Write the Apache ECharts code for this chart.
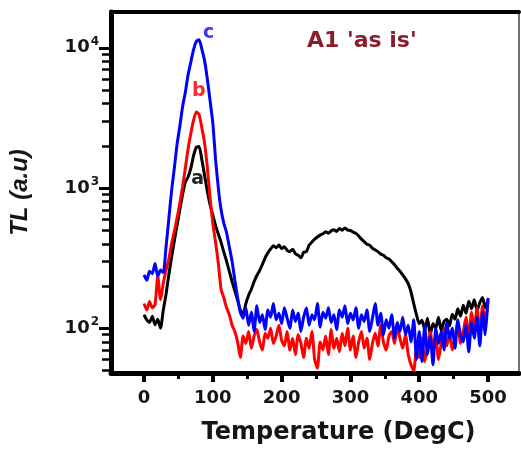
<!DOCTYPE html>
<html><head><meta charset="utf-8">
<script src="https://cdn.jsdelivr.net/npm/echarts@6/dist/echarts.min.js"></script>
<style>html,body{margin:0;padding:0;background:#fff}#c{width:521px;height:450px}</style>
</head><body><div id="c"></div>
<script>
const temps = [0,4,8,12,16,20,24,28,32,36,40,44,48,52,56,60,64,68,72,76,80,84,88,92,96,100,104,108,112,116,120,124,128,132,136,140,144,148,152,156,160,164,168,172,176,180,184,188,192,196,200,204,208,212,216,220,224,228,232,236,240,244,248,252,256,260,264,268,272,276,280,284,288,292,296,300,304,308,312,316,320,324,328,332,336,340,344,348,352,356,360,364,368,372,376,380,384,388,392,396,400,404,408,412,416,420,424,428,432,436,440,444,448,452,456,460,464,468,472,476,480,484,488,492,496,500];
const seriesA = [125,115,110,122,106,116,100,135,175,240,320,420,540,700,900,1100,1200,1380,1700,1950,1980,1600,1230,950,760,640,540,470,410,350,300,255,215,185,158,135,126,150,172,190,215,238,258,285,318,345,368,388,375,392,370,382,360,352,366,340,332,318,348,352,392,412,432,448,462,472,488,476,495,505,490,515,500,520,502,498,485,475,455,432,415,398,392,372,362,352,338,332,318,312,298,285,268,255,240,225,208,182,150,125,108,114,98,118,90,108,100,120,96,112,116,104,126,116,138,122,146,128,156,138,160,134,152,166,140,158];
const seriesB = [150,135,155,140,148,235,160,210,260,310,400,490,610,780,1020,1380,1900,2450,3050,3480,3350,2700,2100,1400,850,560,410,290,190,165,140,125,105,95,80,62,88,78,95,72,88,98,80,70,92,85,100,78,88,105,82,75,95,70,85,65,90,78,62,85,72,95,60,52,80,70,88,65,98,72,85,68,92,75,100,70,88,62,80,95,72,85,60,78,92,75,105,80,70,88,95,78,102,85,72,90,65,55,50,70,62,85,58,72,95,68,88,60,78,100,75,92,70,85,110,78,95,120,85,130,100,140,90,145,110,160];
const seriesC = [240,220,255,245,290,235,260,250,380,600,950,1380,2050,2750,3800,4800,6400,7900,9700,11100,11400,9800,8100,6000,4200,2900,1600,1000,700,560,480,380,300,220,165,130,118,140,105,130,95,145,110,125,98,135,120,150,115,128,108,140,118,100,135,112,128,95,120,140,105,125,115,150,102,130,118,140,110,125,98,135,120,145,108,128,115,140,100,125,112,135,95,118,150,105,128,90,115,100,125,85,110,95,120,90,105,80,115,60,95,58,105,65,88,55,100,78,95,70,110,85,100,72,115,90,80,105,68,110,85,120,75,130,90,165];
const seriesNames = ['a','b','c'];
const seriesColors = ['#000000','#ff0000','#0000ff'];
const labelColors = ['#222222','#ff2a2a','#3a3af0'];
const labelCoords = [[78,1166],[79.6,4910],[94,12740]];
const xMajorTicks = [0,100,200,300,400,500];
const xMinorTicks = [50,150,250,350,450];
const yMajorTicks = [100,1000,10000];
const yTickExponents = {100:'2',1000:'3',10000:'4'};
const yMinorTicks = [50,60,70,80,90,200,300,400,500,600,700,800,900,2000,3000,4000,5000,6000,7000,8000,9000];
const panelTitle = "A1 'as is'";
const xTitle = 'Temperature (DegC)';
const yTitle = 'TL (a.u)';

const FONT = 'DejaVu Sans';
const X_MIN = -48, X_MAX = 545, Y_MIN = 48, Y_MAX = 18000;
const chart = echarts.init(document.getElementById('c'), null, {renderer:'canvas'});
const allSeries = [seriesA, seriesB, seriesC];

const baseX = {type:'value', min:X_MIN, max:X_MAX, splitLine:{show:false}};
const baseY = {type:'log', logBase:10, min:Y_MIN, max:Y_MAX, splitLine:{show:false}};

chart.setOption({
  animation:false,
  backgroundColor:'#ffffff',
  grid:{left:109, right:2, top:12, bottom:72, containLabel:false},
  xAxis:[
    Object.assign({}, baseX, {
      position:'bottom',
      axisLine:{show:true, onZero:false, lineStyle:{color:'#000', width:5}},
      axisTick:{show:true, customValues:xMajorTicks, length:9, inside:false, lineStyle:{color:'#000', width:4}},
      axisLabel:{show:true, customValues:xMajorTicks, margin:16, color:'#151515', fontFamily:FONT, fontWeight:'bold', fontSize:18},
      name:xTitle, nameLocation:'middle', nameGap:48,
      nameTextStyle:{color:'#151515', fontFamily:FONT, fontWeight:'bold', fontSize:24, padding:[0,0,0,47]}
    }),
    Object.assign({}, baseX, {
      position:'bottom',
      axisLine:{show:false, onZero:false},
      axisTick:{show:true, customValues:xMinorTicks, length:6, lineStyle:{color:'#000', width:3}},
      axisLabel:{show:false}
    }),
    Object.assign({}, baseX, {
      position:'top',
      axisLine:{show:true, onZero:false, lineStyle:{color:'#000', width:4}},
      axisTick:{show:false}, axisLabel:{show:false}
    })
  ],
  yAxis:[
    Object.assign({}, baseY, {
      position:'left',
      axisLine:{show:true, onZero:false, lineStyle:{color:'#000', width:5}},
      axisTick:{show:true, customValues:yMajorTicks, length:12, lineStyle:{color:'#000', width:3}},
      axisLabel:{show:true, customValues:yMajorTicks, margin:12,
        formatter:function(v){ return '{m|10}{e|' + yTickExponents[Math.round(v)] + '}'; },
        rich:{
          m:{color:'#151515', fontFamily:FONT, fontWeight:'bold', fontSize:18},
          e:{color:'#151515', fontFamily:FONT, fontWeight:'bold', fontSize:12, padding:[0,0,12,1]}
        }},
      name:yTitle, nameLocation:'middle', nameGap:79,
      nameTextStyle:{color:'#151515', fontFamily:'Liberation Sans', fontWeight:'bold', fontStyle:'italic', fontSize:24}
    }),
    Object.assign({}, baseY, {
      position:'left',
      axisLine:{show:false, onZero:false},
      axisTick:{show:true, customValues:yMinorTicks, length:9, lineStyle:{color:'#000', width:2.5}},
      axisLabel:{show:false}
    }),
    Object.assign({}, baseY, {
      position:'right',
      axisLine:{show:true, onZero:false, lineStyle:{color:'#444', width:1.5}},
      axisTick:{show:false}, axisLabel:{show:false}
    })
  ],
  graphic:[{
    type:'text', left:307, top:30,
    style:{text:panelTitle, fill:'#8a1c2c', font:'bold 22px "DejaVu Sans"'}
  }],
  series: allSeries.map(function(vals, k){
    return {
      type:'line', name:seriesNames[k], xAxisIndex:0, yAxisIndex:0,
      data: temps.map(function(t,i){ return [t, vals[i]]; }),
      showSymbol:false, symbol:'none', smooth:0.2,
      lineStyle:{color:seriesColors[k], width:3},
      z: 2 + k,
      markPoint:{
        symbol:'circle', symbolSize:0, silent:true,
        data:[{coord:labelCoords[k], value:seriesNames[k]}],
        label:{show:true, position:'inside', formatter:seriesNames[k], color:labelColors[k], fontFamily:FONT, fontWeight:'bold', fontSize:19}
      }
    };
  })
});
</script></body></html>
